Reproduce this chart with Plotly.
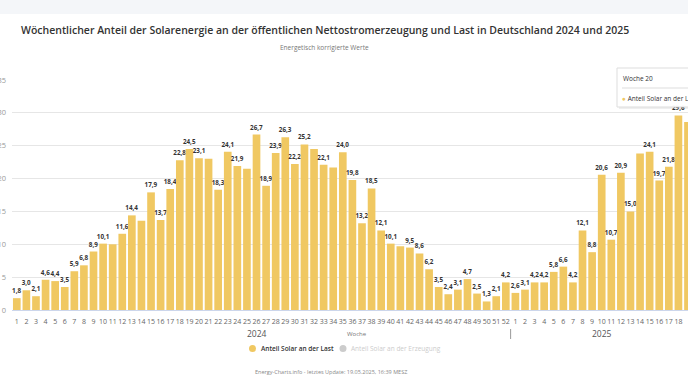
import plotly.graph_objects as go

# ---- data ----
weeks_2024 = list(range(1, 53))
weeks_2025 = list(range(1, 20))
solar_last_2024 = [1.8, 3.0, 2.1, 4.6, 4.4, 3.5, 5.9, 6.8, 8.9, 10.1,
                   10.0, 11.6, 14.4, 13.6, 17.9, 13.7, 18.4, 22.8, 24.5, 23.1,
                   23.0, 18.3, 24.1, 21.9, 21.5, 26.7, 18.9, 23.9, 26.3, 22.2,
                   25.2, 24.5, 22.1, 21.7, 24.0, 19.8, 13.2, 18.5, 12.1, 10.1,
                   9.7, 9.5, 8.6, 6.2, 3.5, 2.4, 3.1, 4.7, 2.5, 1.3,
                   2.1, 4.2]
solar_last_2025 = [2.6, 3.1, 4.2, 4.2, 5.8, 6.6, 4.2, 12.1, 8.8, 20.6,
                   10.7, 20.9, 15.0, 23.8, 24.1, 19.7, 21.8, 29.6, 28.6]
# weeks whose value label is not shown in the original
unlabeled_2024 = [11, 14, 21, 25, 32, 34, 41]
unlabeled_2025 = [14, 19]
y_ticks = [0, 5, 10, 15, 20, 25, 30, 35]

W, H = 688, 387
ML, MR, MT, MB = 12, 0, 80, 77
PW, PH = W - ML - MR, H - MT - MB

def px(x):
    return (x - ML) / PW

def py(y):
    return (H - MB - y) / PH

values = solar_last_2024 + solar_last_2025
tick_text = [str(w) for w in weeks_2024] + [str(w) for w in weeks_2025]
xs = list(range(len(values)))
labels = []
for w, v in zip(weeks_2024, solar_last_2024):
    labels.append("" if w in unlabeled_2024 else f"{v:.1f}".replace(".", ","))
for w, v in zip(weeks_2025, solar_last_2025):
    labels.append("" if w in unlabeled_2025 else f"{v:.1f}".replace(".", ","))

FONT = "Open Sans"
BAR = "#F0C862"

fig = go.Figure()
fig.add_trace(go.Bar(
    x=xs, y=values, marker=dict(color=BAR, line=dict(width=0)),
    text=labels, textposition="outside", cliponaxis=False, constraintext="none",
    textfont=dict(family=FONT, size=6.3, color="#333333", weight="bold"),
    hoverinfo="skip", showlegend=False,
))

fig.update_layout(
    width=W, height=H, margin=dict(l=ML, r=MR, t=MT, b=MB, autoexpand=False),
    paper_bgcolor="white", plot_bgcolor="white",
    bargap=0.2, hovermode=False,
    font=dict(family=FONT, color="#666666"),
    xaxis=dict(range=[-0.5, len(weeks_2024) + 18], tickmode="array", tickvals=xs,
               ticktext=tick_text, tickangle=0, tickfont=dict(size=7, color="#666666"),
               showgrid=False, showline=True, linecolor="#ccd6eb", linewidth=1,
               ticks="", ticklabelstandoff=5, automargin=False),
    yaxis=dict(range=[0, 35], tickvals=y_ticks, tickfont=dict(size=7.5, color="#999999"),
               showgrid=True, gridcolor="#e6e6e6", gridwidth=1, zeroline=False,
               showline=False, ticks="", ticklabelstandoff=5, automargin=False),
)

shapes = []
ann = []

def text(t, x, y, size, color, xref="paper", xanchor="center", weight=None):
    f = dict(family=FONT, size=size, color=color)
    if weight:
        f["weight"] = weight
    ann.append(dict(text=t, xref=xref, yref="paper", x=x, y=py(y), xanchor=xanchor, yanchor="middle",
                    showarrow=False, font=f))

# top page band
shapes.append(dict(type="rect", xref="paper", yref="paper", x0=px(0), x1=px(W), y0=py(0), y1=py(14),
                   fillcolor="#f4f6f9", line=dict(width=0), layer="below"))
# group separator tick
shapes.append(dict(type="line", xref="x", yref="paper", x0=len(weeks_2024) - 0.5, x1=len(weeks_2024) - 0.5,
                   y0=py(329), y1=py(339), line=dict(color="#999999", width=1)))

text("Wöchentlicher Anteil der Solarenergie an der öffentlichen Nettostromerzeugung und Last in Deutschland 2024 und 2025",
     px(324.5), 30, 10.5, "#333333", weight=600)
text("Energetisch korrigierte Werte", px(324), 48, 6.5, "#777777")
text("2024", (len(weeks_2024) - 1) / 2 - 0.5, 333, 8.5, "#555555", xref="x")
text("2025", len(weeks_2024) + 9.0, 333, 8.5, "#555555", xref="x")
text("Woche", 35.5, 334, 6, "#777777", xref="x")
# legend
shapes.append(dict(type="circle", xref="paper", yref="paper", x0=px(249), x1=px(256), y0=py(345), y1=py(352),
                   fillcolor=BAR, line=dict(width=0)))
text("Anteil Solar an der Last", px(259), 348.5, 6.5, "#333333", xanchor="left", weight=600)
shapes.append(dict(type="circle", xref="paper", yref="paper", x0=px(339.5), x1=px(346.5), y0=py(345), y1=py(352),
                   fillcolor="#cccccc", line=dict(width=0)))
text("Anteil Solar an der Erzeugung", px(349), 348.5, 6.5, "#cccccc", xanchor="left")
text("Energy-Charts.info - letztes Update: 19.05.2025, 16:39 MESZ", px(331), 372, 5.5, "#888888")
# tooltip
shapes.append(dict(type="rect", xref="paper", yref="paper", x0=px(619), x1=px(700), y0=py(70), y1=py(109),
                   fillcolor="rgba(120,120,120,0.12)", line=dict(width=0), layer="above"))
shapes.append(dict(type="rect", xref="paper", yref="paper", x0=px(617), x1=px(700), y0=py(68), y1=py(107),
                   fillcolor="rgba(255,255,255,0.97)", line=dict(color="#dddddd", width=1), layer="above"))
shapes.append(dict(type="line", xref="paper", yref="paper", x0=px(622), x1=px(700), y0=py(88), y1=py(88),
                   line=dict(color="#dddddd", width=1), layer="above"))
text("Woche 20", px(621), 78, 6.5, "#333333", xanchor="left")
text("<span style='color:#F0C862'>●</span> Anteil Solar an der Last", px(620), 98, 6.5, "#333333", xanchor="left")

fig.update_layout(shapes=shapes, annotations=ann)
fig.write_html("out.html", config={"displayModeBar": False, "staticPlot": True},
               post_script="document.body.style.margin='0';document.body.style.overflow='hidden';")
